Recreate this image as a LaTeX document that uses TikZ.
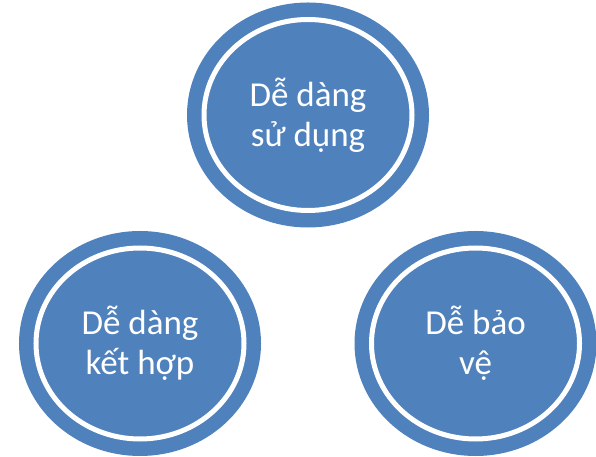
\documentclass[tikz,border=0pt]{standalone}
\usepackage{fontspec}
\setmainfont{Carlito}
\usetikzlibrary{positioning, shapes.geometric}
\definecolor{bubbleblue}{HTML}{4F81BD}

\begin{document}
\begin{tikzpicture}[x=1pt,y=1pt,on grid,
    bubble/.style={ellipse,fill=bubbleblue,draw=bubbleblue,double=white,double distance=5pt,
      line width=14.5pt,minimum width=208pt,minimum height=191pt,inner sep=0pt,
      text=white,align=center,font=\fontsize{35}{40}\selectfont}]
	\useasboundingbox (0,0) rectangle (596,457);
	\node[bubble] (easyuse) at (308,342) {Dễ dàng\\sử dụng};
	\node[bubble,below left=228.5pt and 168pt of easyuse] (easycombine) {Dễ dàng\\kết hợp};
	\node[bubble,below right=228.5pt and 167.5pt of easyuse] (easyprotect) {Dễ bảo\\vệ};
\end{tikzpicture}
\end{document}
